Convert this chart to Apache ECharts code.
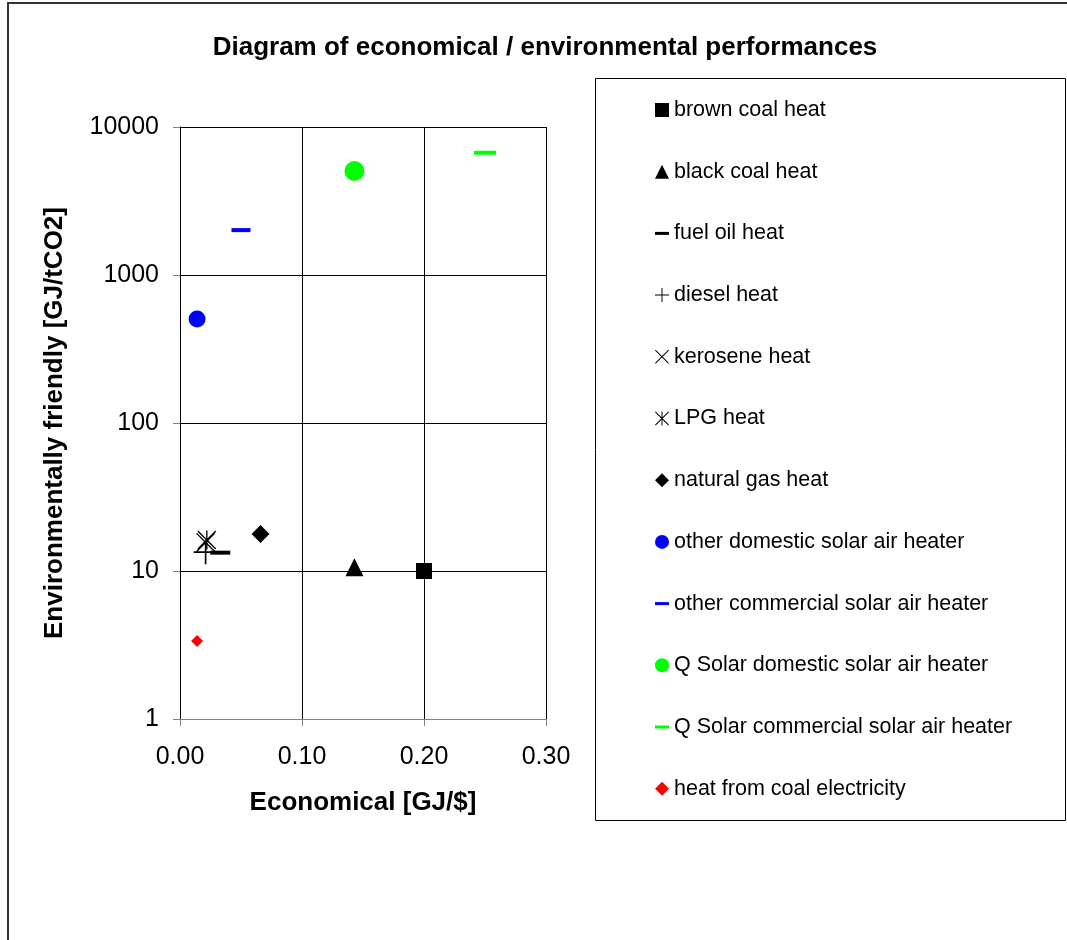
<!DOCTYPE html>
<html>
<head>
<meta charset="utf-8">
<script src="https://cdn.jsdelivr.net/npm/echarts@6/dist/echarts.min.js"></script>
<style>
  html, body { margin: 0; padding: 0; background: #fff; }
  #chart { width: 1067px; height: 940px; }
</style>
</head>
<body>
<div id="chart"></div>
<script>
// one point per series, [economical GJ/$, environmental GJ/tCO2]
const seriesNames = [
  "brown coal heat",
  "black coal heat",
  "fuel oil heat",
  "diesel heat",
  "kerosene heat",
  "LPG heat",
  "natural gas heat",
  "other domestic solar air heater",
  "other commercial solar air heater",
  "Q Solar domestic solar air heater",
  "Q Solar commercial solar air heater",
  "heat from coal electricity"
];
const brownCoal = [[0.200, 10.0]];
const blackCoal = [[0.143, 10.6]];
const fuelOil = [[0.033, 13.3]];
const diesel = [[0.021, 13.4]];
const kerosene = [[0.021, 15.6]];
const lpg = [[0.022, 16.2]];
const naturalGas = [[0.066, 17.8]];
const otherDomestic = [[0.014, 504]];
const otherCommercial = [[0.050, 2010]];
const qSolarDomestic = [[0.143, 5040]];
const qSolarCommercial = [[0.250, 6700]];
const coalElectricity = [[0.014, 3.37]];

const xTicks = [0, 0.1, 0.2, 0.3];
const yTicks = [1, 10, 100, 1000, 10000];

const PLUS = "path://M9.3,0 L10.7,0 L10.7,20 L9.3,20 Z M0,9.3 L20,9.3 L20,10.7 L0,10.7 Z";
const CROSS = "path://M0,1 L1,0 L20,19 L19,20 Z M19,0 L20,1 L1,20 L0,19 Z";
const STAR = "path://M0,1 L1,0 L20,19 L19,20 Z M19,0 L20,1 L1,20 L0,19 Z M9.3,0 L10.7,0 L10.7,20 L9.3,20 Z";
const DASH = "path://M0,0 L14,0 L14,3 L0,3 Z";

const FONT = "Liberation Sans, Arial, sans-serif";

const chart = echarts.init(document.getElementById("chart"), null, { renderer: "canvas" });

function pt(name, data, symbol, size, color) {
  return {
    name: name,
    type: "scatter",
    data: data,
    symbol: symbol,
    symbolSize: size,
    itemStyle: { color: color, opacity: 1 },
    emphasis: { disabled: true }
  };
}

const legendIcons = ["rect", "triangle", DASH, PLUS, CROSS, STAR, "diamond",
  "circle", DASH, "circle", DASH, "diamond"];

const option = {
  animation: false,
  backgroundColor: "#fff",
  textStyle: { fontFamily: FONT },
  title: {
    text: "Diagram of economical / environmental performances",
    left: 540,
    top: 30,
    textAlign: "center",
    textStyle: { fontSize: 26, fontWeight: "bold", color: "#000", fontFamily: FONT }
  },
  graphic: [
    { type: "rect", shape: { x: 8, y: 3, width: 1100, height: 1000 }, style: { fill: "none", stroke: "#333", lineWidth: 2 }, silent: true },
    { type: "rect", shape: { x: 595.5, y: 78.5, width: 470, height: 742 }, style: { fill: "none", stroke: "#000", lineWidth: 1 }, silent: true }
  ],
  legend: {
    orient: "vertical",
    left: 655,
    top: 99,
    padding: 0,
    itemWidth: 14,
    itemHeight: 14,
    itemGap: 39.7,
    selectedMode: false,
    textStyle: { fontSize: 21.5, color: "#000", fontFamily: FONT },
    data: seriesNames.map((n, i) => ({ name: n, icon: legendIcons[i] }))
  },
  grid: { left: 180, top: 127, width: 366, height: 592, containLabel: false },
  xAxis: {
    type: "value",
    min: xTicks[0],
    max: xTicks[xTicks.length - 1],
    interval: 0.1,
    name: "Economical [GJ/$]",
    nameLocation: "middle",
    nameGap: 71,
    nameTextStyle: { fontSize: 26, fontWeight: "bold", color: "#000", fontFamily: FONT },
    axisLine: { lineStyle: { color: "#808080", width: 1 } },
    axisTick: { show: true, length: 7, lineStyle: { color: "#808080" } },
    axisLabel: { fontSize: 25, color: "#000", margin: 26, fontFamily: FONT, formatter: v => v.toFixed(2) },
    splitLine: { show: true, lineStyle: { color: "#000", width: 1 } }
  },
  yAxis: {
    type: "log",
    logBase: 10,
    min: yTicks[0],
    max: yTicks[yTicks.length - 1],
    name: "Environmentally friendly [GJ/tCO2]",
    nameLocation: "middle",
    nameGap: 112,
    nameTextStyle: { fontSize: 26, fontWeight: "bold", color: "#000", fontFamily: FONT },
    axisLine: { show: true, lineStyle: { color: "#000", width: 1 } },
    axisTick: { show: true, length: 7, lineStyle: { color: "#808080" } },
    minorTick: { show: false },
    axisLabel: { fontSize: 25, color: "#000", margin: 21, fontFamily: FONT, formatter: v => String(Math.round(v)) },
    splitLine: { show: true, lineStyle: { color: "#000", width: 1 } }
  },
  series: [
    pt(seriesNames[0], brownCoal, "rect", 16, "#000"),
    pt(seriesNames[1], blackCoal, "triangle", 18, "#000"),
    pt(seriesNames[2], fuelOil, "rect", [20, 4], "#000"),
    pt(seriesNames[3], diesel, PLUS, 24, "#000"),
    pt(seriesNames[4], kerosene, CROSS, 19, "#000"),
    pt(seriesNames[5], lpg, STAR, 19, "#000"),
    pt(seriesNames[6], naturalGas, "diamond", 18, "#000"),
    pt(seriesNames[7], otherDomestic, "circle", 17, "#0000FF"),
    pt(seriesNames[8], otherCommercial, "rect", [19, 4], "#0000FF"),
    pt(seriesNames[9], qSolarDomestic, "circle", 20, "#00FF00"),
    pt(seriesNames[10], qSolarCommercial, "rect", [22, 4], "#00FF00"),
    pt(seriesNames[11], coalElectricity, "diamond", 12, "#FF0000")
  ]
};

chart.setOption(option);
</script>
</body>
</html>
